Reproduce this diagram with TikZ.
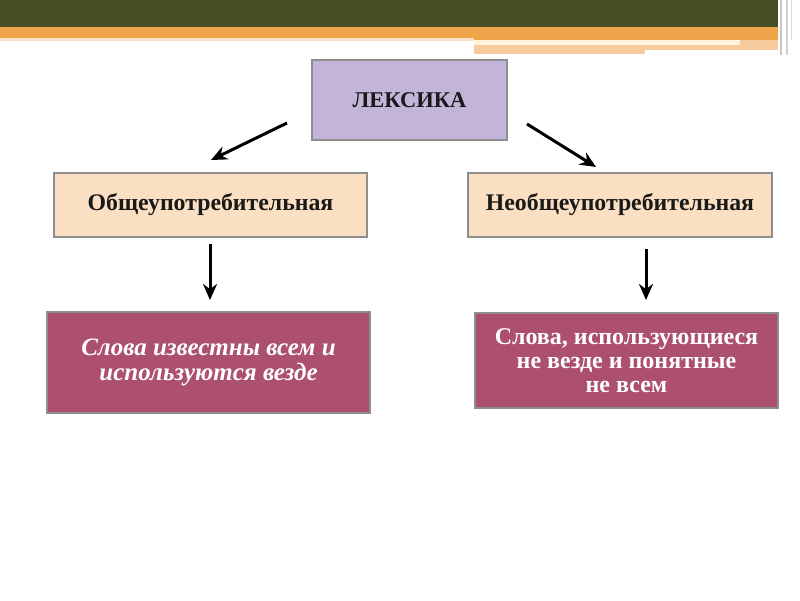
\documentclass[tikz,border=0pt]{standalone}
\usepackage{fontspec}
\setmainfont{Liberation Serif}
\usetikzlibrary{arrows.meta}
\definecolor{olivebar}{HTML}{454E24}
\definecolor{orangebar}{HTML}{F0A44A}
\definecolor{lightorange}{HTML}{F7CB9C}
\definecolor{creamline}{HTML}{FEF4DC}
\definecolor{lavender}{HTML}{C3B4D9}
\definecolor{peach}{HTML}{FADFC2}
\definecolor{berry}{HTML}{AC4F70}
\definecolor{boxborder}{HTML}{8E8E8E}
\tikzset{
  box/.style={draw=boxborder, line width=1.5pt, inner sep=0pt, outer sep=0pt, align=center},
  toptext/.style={font=\bfseries\fontsize{22.5}{26}\selectfont, text=black!90},
  midtext/.style={font=\bfseries\fontsize{23.8}{28}\selectfont, text=black!90},
  lowtextl/.style={font=\bfseries\itshape\fontsize{25}{25}\selectfont, text=white},
  lowtextr/.style={font=\bfseries\fontsize{24}{24}\selectfont, text=white},
  arr/.style={line width=3pt, -{Stealth[length=16pt,width=14pt]}}
}
\begin{document}
\begin{tikzpicture}[x=1pt,y=-1pt]
\useasboundingbox (0,0) rectangle (800,600);
\fill[white] (0,0) rectangle (800,600);
% header
\fill[olivebar] (0,0) rectangle (778,27);
\fill[orangebar] (0,27) rectangle (778,38);
\fill[orangebar] (474,38) rectangle (778,40);
\fill[creamline] (474,40) rectangle (740,45);
\fill[lightorange] (740,40) rectangle (778,45);
\fill[lightorange] (474,45) rectangle (778,50);
\fill[lightorange] (474,50) rectangle (645,54);
\fill[lightorange!60] (0,38) rectangle (474,41);
\fill[gray!45] (780,0) rectangle (781.5,55);
\fill[gray!35] (786,0) rectangle (787.5,55);
\fill[gray!30] (791,0) rectangle (792,40);
% boxes
\node[box, fill=lavender, minimum width=195pt, minimum height=80pt, toptext] (lex) at (409.5,100) {ЛЕКСИКА};
\node[box, fill=peach, minimum width=313pt, minimum height=64pt, midtext] (gen) at (210.5,205) {Общеупотребительная};
\node[box, fill=peach, minimum width=304pt, minimum height=64pt, midtext] (spec) at (620,205) {Необщеупотребительная};
\node[box, fill=berry, minimum width=323pt, minimum height=101pt, lowtextl] (genw) at (208.5,362.5) {Слова известны всем и\\используются везде};
\node[box, fill=berry, minimum width=303pt, minimum height=95pt, lowtextr] (specw) at (626.5,360.5) {Слова, использующиеся\\не везде и понятные\\не всем};
% arrow end points
\coordinate (a1s) at (287,123);
\coordinate (a1e) at (211,160);
\coordinate (a2s) at (527,124);
\coordinate (a2e) at (596,167);
\coordinate (a3s) at (210,244);
\coordinate (a3e) at (210,300);
\coordinate (a4s) at (646,249);
\coordinate (a4e) at (646,300);
\draw[arr] (a1s) -- (a1e);
\draw[arr] (a2s) -- (a2e);
\draw[arr] (a3s) -- (a3e);
\draw[arr] (a4s) -- (a4e);
\end{tikzpicture}
\end{document}
